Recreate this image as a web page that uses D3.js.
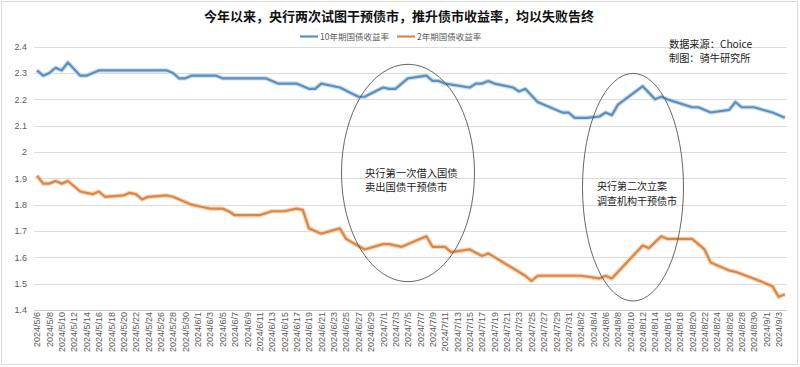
<!DOCTYPE html>
<html><head><meta charset="utf-8">
<script src="https://cdn.jsdelivr.net/npm/d3@7/dist/d3.min.js"></script>
<style>
html,body{margin:0;padding:0;background:#fff;}
svg{display:block;font-family:"Noto Sans CJK SC","Noto Sans",sans-serif;}
</style></head>
<body><svg id="c" width="800" height="367"></svg>
<script>
const title = "今年以来，央行两次试图干预债市，推升债市收益率，均以失败告终";
const seriesNames = ["10年期国债收益率", "2年期国债收益率"];
const sourceLines = ["数据来源：Choice", "制图：骑牛研究所"];
const notes1 = ["央行第一次借入国债", "卖出国债干预债市"];
const notes2 = ["央行第二次立案", "调查机构干预债市"];

const yTicks = [1.4,1.5,1.6,1.7,1.8,1.9,2,2.1,2.2,2.3,2.4];
const xTickLabels = [
"2024/5/6","2024/5/8","2024/5/10","2024/5/12","2024/5/14","2024/5/16","2024/5/18","2024/5/20","2024/5/22","2024/5/24","2024/5/26","2024/5/28","2024/5/30",
"2024/6/1","2024/6/3","2024/6/5","2024/6/7","2024/6/9","2024/6/11","2024/6/13","2024/6/15","2024/6/17","2024/6/19","2024/6/21","2024/6/23","2024/6/25","2024/6/27","2024/6/29",
"2024/7/1","2024/7/3","2024/7/5","2024/7/7","2024/7/9","2024/7/11","2024/7/13","2024/7/15","2024/7/17","2024/7/19","2024/7/21","2024/7/23","2024/7/25","2024/7/27","2024/7/29","2024/7/31",
"2024/8/2","2024/8/4","2024/8/6","2024/8/8","2024/8/10","2024/8/12","2024/8/14","2024/8/16","2024/8/18","2024/8/20","2024/8/22","2024/8/24","2024/8/26","2024/8/28","2024/8/30",
"2024/9/1","2024/9/3"];

const dates10 = ["2024/5/6","2024/5/7","2024/5/8","2024/5/9","2024/5/10","2024/5/11","2024/5/13","2024/5/14","2024/5/16","2024/5/27","2024/5/28","2024/5/29","2024/5/30","2024/5/31",
"2024/6/4","2024/6/5","2024/6/12","2024/6/14","2024/6/17","2024/6/19","2024/6/20","2024/6/21","2024/6/24","2024/6/27","2024/6/28",
"2024/7/1","2024/7/2","2024/7/3","2024/7/5","2024/7/8","2024/7/9","2024/7/10","2024/7/11","2024/7/15","2024/7/16","2024/7/17","2024/7/18","2024/7/19","2024/7/22","2024/7/23","2024/7/24","2024/7/26","2024/7/30","2024/7/31",
"2024/8/1","2024/8/3","2024/8/5","2024/8/6","2024/8/7","2024/8/8","2024/8/12","2024/8/14","2024/8/15","2024/8/16","2024/8/20","2024/8/21","2024/8/23","2024/8/26","2024/8/27","2024/8/28","2024/8/30",
"2024/9/2","2024/9/4"];
const values10 = [2.31,2.29,2.30,2.32,2.31,2.34,2.29,2.29,2.31,2.31,2.30,2.28,2.28,2.29,
2.29,2.28,2.28,2.26,2.26,2.24,2.24,2.26,2.245,2.21,2.21,
2.245,2.24,2.24,2.28,2.29,2.27,2.27,2.26,2.245,2.26,2.26,2.27,2.26,2.245,2.23,2.24,2.19,2.15,2.15,
2.13,2.13,2.135,2.15,2.14,2.18,2.25,2.20,2.21,2.20,2.17,2.17,2.15,2.16,2.19,2.17,2.17,
2.15,2.13];

const dates2 = ["2024/5/6","2024/5/7","2024/5/8","2024/5/9","2024/5/10","2024/5/11","2024/5/13","2024/5/15","2024/5/16","2024/5/17","2024/5/20","2024/5/21","2024/5/22","2024/5/23","2024/5/24","2024/5/27","2024/5/28","2024/5/31",
"2024/6/1","2024/6/3","2024/6/5","2024/6/6","2024/6/7","2024/6/11","2024/6/13","2024/6/15","2024/6/17","2024/6/18","2024/6/19","2024/6/21","2024/6/24","2024/6/25","2024/6/28",
"2024/7/1","2024/7/2","2024/7/4","2024/7/8","2024/7/9","2024/7/11","2024/7/12","2024/7/15","2024/7/17","2024/7/18","2024/7/24","2024/7/25","2024/7/26",
"2024/8/2","2024/8/5","2024/8/6","2024/8/7","2024/8/9","2024/8/12","2024/8/13","2024/8/15","2024/8/16","2024/8/20","2024/8/22","2024/8/23","2024/8/26","2024/8/27","2024/8/31",
"2024/9/1","2024/9/2","2024/9/3","2024/9/4"];
const values2 = [1.91,1.88,1.88,1.89,1.88,1.89,1.85,1.84,1.85,1.83,1.835,1.845,1.84,1.82,1.83,1.835,1.83,1.80,
1.795,1.785,1.785,1.775,1.76,1.76,1.775,1.775,1.785,1.78,1.71,1.69,1.71,1.67,1.63,
1.65,1.65,1.64,1.68,1.64,1.64,1.62,1.63,1.605,1.615,1.53,1.51,1.53,
1.53,1.52,1.53,1.52,1.57,1.645,1.635,1.68,1.67,1.67,1.63,1.58,1.55,1.545,1.51,
1.50,1.49,1.45,1.46];

const parse = d3.timeParse("%Y/%m/%d");
const svg = d3.select("#c");

// chart border
svg.append("rect").attr("x",1.5).attr("y",1.5).attr("width",796).attr("height",363)
  .attr("fill","none").attr("stroke","#d9d9d9");

const x = d3.scaleTime().domain([parse("2024/5/6"), parse("2024/9/3")]).range([37, 778.7]);
const y = d3.scaleLinear().domain([1.4, 2.4]).range([310, 46.7]);

// gridlines
svg.append("g").selectAll("line").data(yTicks).join("line")
  .attr("x1",34).attr("x2",787)
  .attr("y1",d=>Math.round(y(d))+0.5).attr("y2",d=>Math.round(y(d))+0.5)
  .attr("stroke",d=>d===1.4?"#c8c8c8":"#dcdcdc").attr("stroke-width",1);

// y axis labels
const yAxis = d3.axisLeft(y).tickValues(yTicks).tickSize(0).tickPadding(0).tickFormat(d3.format("~g"));
const gy = svg.append("g").attr("transform","translate(27,0)").call(yAxis);
gy.select(".domain").remove();
gy.selectAll("text").attr("font-size",9).attr("fill","#595959").attr("font-family","'Liberation Sans',Arial,sans-serif");

// x axis labels
const xAxis = d3.axisBottom(x).tickValues(xTickLabels.map(parse)).tickSize(0).tickFormat(d3.timeFormat("%Y/%-m/%-d"));
const gx = svg.append("g").attr("transform","translate(0,312)").call(xAxis);
gx.select(".domain").remove();
gx.selectAll("text").attr("font-size",9).attr("fill","#595959")
  .attr("font-family","'Liberation Sans',Arial,sans-serif")
  .attr("text-anchor","end").attr("transform","rotate(-90)")
  .attr("x",0).attr("y",0).attr("dx",0).attr("dy","0.32em");

// lines
const line = d3.line().x(d=>x(d[0])).y(d=>y(d[1]));
const s10 = dates10.map((d,i)=>[parse(d), values10[i]]);
const s2 = dates2.map((d,i)=>[parse(d), values2[i]]);
const colors = ["#5b8fbf","#dd8643"];
const halos = ["#c9def0","#f7d5b8"];
[s10, s2].forEach((s,i)=>{
  svg.append("path").datum(s).attr("d",line).attr("fill","none")
    .attr("stroke",halos[i]).attr("stroke-width",4.5).attr("stroke-linejoin","round");
  svg.append("path").datum(s).attr("d",line).attr("fill","none")
    .attr("stroke",colors[i]).attr("stroke-width",2.2).attr("stroke-linejoin","round");
});

// ellipses
svg.append("ellipse").attr("cx",408).attr("cy",173).attr("rx",66.5).attr("ry",108.7)
  .attr("fill","none").attr("stroke","#555").attr("stroke-width",0.9);
svg.append("ellipse").attr("cx",633).attr("cy",187.2).attr("rx",50.5).attr("ry",113.8)
  .attr("fill","none").attr("stroke","#555").attr("stroke-width",0.9);

// notes
svg.append("g").selectAll("text").data(notes1).join("text")
  .attr("x",365).attr("y",(d,i)=>177+i*13.5).text(d=>d)
  .attr("font-size",10.3).attr("fill","#222");
svg.append("g").selectAll("text").data(notes2).join("text")
  .attr("x",597).attr("y",(d,i)=>190+i*14.5).text(d=>d)
  .attr("font-size",10).attr("fill","#222");

// title
svg.append("text").attr("x",399).attr("y",21).attr("text-anchor","middle")
  .attr("font-size",13).attr("font-weight","bold").attr("fill","#111").text(title);

// legend
const legX = [300, 397];
seriesNames.forEach((n,i)=>{
  svg.append("line").attr("x1",legX[i]).attr("x2",legX[i]+18).attr("y1",36.5).attr("y2",36.5)
    .attr("stroke",colors[i]).attr("stroke-width",2.2);
  svg.append("text").attr("x",legX[i]+20).attr("y",39.5).attr("font-size",8.5)
    .attr("fill","#595959").text(n);
});

// source
svg.append("g").selectAll("text").data(sourceLines).join("text")
  .attr("x",669).attr("y",(d,i)=>47.5+i*14).text(d=>d)
  .attr("font-size",10.2).attr("fill","#222");
</script></body></html>
